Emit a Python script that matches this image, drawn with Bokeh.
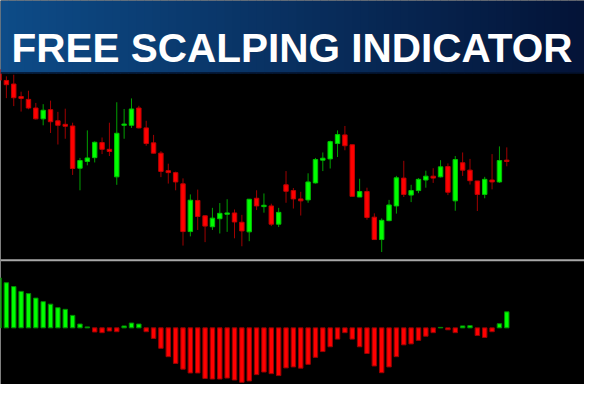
import numpy as np
from bokeh.plotting import figure
from bokeh.models import Range1d, Span, Label, BoxAnnotation, ColumnDataSource
from bokeh.embed import file_html
from bokeh.resources import INLINE

# ---- data (price in points, histogram in indicator units) ----
opens = [228, 216.7, 213, 200, 197, 188, 176.7, 186.3, 174.7, 171,
         169.3, 125.3, 132.3, 136.3, 152, 145, 116.3, 170, 170, 188,
         167.3, 151.7, 141, 122.7, 120.7, 109, 59.3, 91.7, 75.7, 64.3,
         72.7, 77.3, 78.7, 69, 59, 94, 85.3, 86, 67, 108,
         102, 93.3, 92.3, 110, 133.7, 135, 151, 160, 149.7, 95.3,
         101, 74.3, 51, 70.7, 86, 115, 97.3, 102, 113, 117,
         116.3, 127, 91.3, 131, 123.3, 112, 98, 113, 111, 133.7]
closes = [217, 212.3, 198.7, 198, 188, 176.7, 185.7, 173.7, 170, 169,
          125, 133.3, 136, 152.3, 145, 142.7, 161.7, 171.3, 187, 167.3,
          151, 141, 122, 120.7, 111, 59.3, 92, 75, 65, 73.3,
          78.3, 78.7, 69.3, 60, 93, 86, 86.7, 67, 79.3, 101.3,
          93.3, 91.3, 111, 134.3, 135.7, 153, 160.3, 148.7, 96, 101,
          74, 51, 71, 87, 115.3, 98, 102, 113.7, 117, 115,
          126.7, 100.3, 134.3, 123.3, 112.3, 98, 113.7, 111, 133.3, 132.3]
highs = [233, 221, 222.7, 205, 206, 193.3, 192, 195.7, 184, 187.3,
         172.7, 136, 164.7, 153.3, 157.3, 172.7, 194, 187, 198, 190.3,
         174.7, 160, 143, 130, 121.7, 114.7, 98, 103, 76, 84,
         89, 93, 82.3, 76.7, 93, 102.3, 99, 88.3, 84, 122.3,
         104.7, 100.7, 120, 136, 141.7, 154, 164.7, 169.3, 149.7, 114.3,
         105, 78.3, 73, 92.3, 117.3, 133, 108, 115, 122.7, 125.3,
         133.7, 130.3, 138, 141.7, 135, 112, 116.3, 140, 148, 147]
lows = [214, 198.3, 190, 184.3, 186.7, 176, 170, 162, 150, 156,
        118.3, 102.3, 128.3, 131.3, 140, 138, 108, 156, 167.3, 166.7,
        148.7, 140.7, 116, 109.3, 102.3, 44.7, 54.3, 61, 48.3, 61,
        57.3, 59, 52.3, 44, 49.3, 81.7, 79, 65, 64, 89.3,
        83.3, 76, 89.3, 109.3, 122.3, 125, 137, 144, 96, 95.3,
        71.7, 51, 38, 70, 78, 95.3, 90, 99.3, 105, 110,
        115.7, 97.3, 81, 117.3, 108.3, 80.7, 94, 103.3, 110, 127.3]
hist = [52, 47, 43, 38, 35.7, 31, 27.3, 24.7, 21, 19.3,
        13, 4, 1, -4.3, -5, -3.3, -4, 2, 5, 4,
        -4, -11, -21.3, -30, -37, -43, -47, -47, -52.7, -53.3,
        -53.3, -52.3, -54.3, -56.7, -55.3, -48.7, -46, -47.7, -49.7, -41.7,
        -40.7, -42, -38, -30.7, -24.7, -19.7, -11.7, -5, -11.7, -19.7,
        -26.7, -39.7, -46.7, -40.7, -30, -17.7, -16.7, -13, -8.7, -5,
        0.5, -2, -5, 2, 2.3, -8, -10, -4, 4.3, 16.7]
title_text = "FREE SCALPING INDICATOR"

W, H = 584, 384
o = np.array(opens); c = np.array(closes)
idx = np.arange(len(opens))
up = c >= o
src = ColumnDataSource(dict(
    x=idx, top=np.maximum(o, c), bottom=np.minimum(o, c),
    high=np.array(highs), low=np.array(lows),
    fill=np.where(up, "#00ff00", "#ff0000"),
    edge=np.where(up, "#00c000", "#c00000"),
    wick=np.where(up, "#00a000", "#a00000"),
))
hv = np.array(hist)
hsrc = ColumnDataSource(dict(
    x=idx, h=hv,
    fill=np.where(hv >= 0, "#00ff00", "#ff0000"),
    edge=np.where(hv >= 0, "#008a00", "#9a0000"),
))

p = figure(width=W, height=H, output_backend="svg", toolbar_location=None,
           x_range=Range1d(0.2, 79.56), y_range=Range1d(-100, 300),
           min_border=0, background_fill_color="black",
           border_fill_color="black", outline_line_color=None)
p.axis.visible = False
p.grid.visible = False
p.extra_y_ranges = {"hist": Range1d(-59, 341)}

p.segment(x0="x", y0="high", x1="x", y1="low", line_color="wick",
          line_width=1, source=src)
p.vbar(x="x", width=0.6, top="top", bottom="bottom", fill_color="fill",
       line_color="edge", line_width=1, source=src)

p.vbar(x="x", width=0.6, top="h", bottom=0, fill_color="fill",
       line_color="edge", line_width=1, source=hsrc, y_range_name="hist")

p.add_layout(Span(location=29.3, dimension="width", line_color="#a8a8a8",
                  line_width=2))

# banner gradient
n = 73
c0 = np.array([14, 76, 136]); c1 = np.array([4, 20, 56])
sw = W / n
for k in range(n):
    t = k / (n - 1)
    col = (c0 + (c1 - c0) * t).astype(int)
    p.add_layout(BoxAnnotation(left=k * sw, right=(k + 1) * sw + 0.5,
                               left_units="screen", right_units="screen",
                               bottom=224, fill_color="#%02x%02x%02x" % tuple(col),
                               fill_alpha=1, line_color=None))
p.add_layout(BoxAnnotation(bottom=224, top=225.2, fill_color="#03102a",
                           fill_alpha=1, line_color=None))
p.add_layout(Label(x=11, x_units="screen", y=250.3, text=title_text,
                   text_color="white", text_font="Liberation Sans",
                   text_font_style="bold", text_font_size="40.5px",
                   text_baseline="alphabetic"))

open("out.html", "w").write(file_html(p, INLINE))
